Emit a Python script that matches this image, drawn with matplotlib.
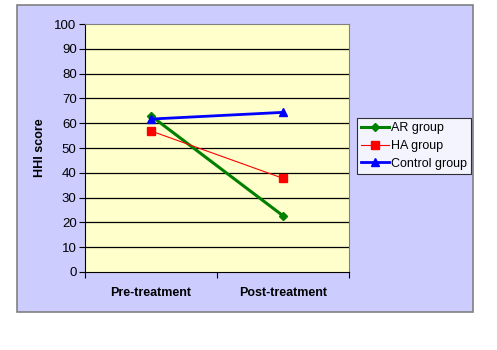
import matplotlib.pyplot as plt
from matplotlib.patches import Rectangle

# data
phases = ['Pre-treatment', 'Post-treatment']
ar_group = [63, 22.7]
ha_group = [56.9, 37.8]
control_group = [61.7, 64.4]
y_ticks = list(range(0, 101, 10))

plt.rcParams['font.family'] = ['Liberation Sans', 'DejaVu Sans']

fig = plt.figure(figsize=(4.97, 3.5), dpi=100)
fig.patch.set_facecolor('white')

# lavender chart area with a grey frame
fig.patches.append(Rectangle((0.034, 0.109), 0.918, 0.877, transform=fig.transFigure,
                             facecolor='#ccccff', edgecolor='#808080', linewidth=1.2, zorder=-5))

ax = fig.add_axes([0.171, 0.223, 0.531, 0.708])
ax.set_facecolor('#ffffcc')

x = list(range(len(phases)))
ax.plot(x, ar_group, color='#008000', linewidth=2.2, marker='D', markersize=4.5, label='AR group')
ax.plot(x, ha_group, color='#ff0000', linewidth=0.8, marker='s', markersize=6, label='HA group')
ax.plot(x, control_group, color='#0000ff', linewidth=2.0, marker='^', markersize=6, label='Control group')

ax.set_xlim(-0.5, 1.5)
ax.set_ylim(0, 100)
ax.set_yticks(y_ticks)
ax.set_yticklabels([str(v) for v in y_ticks], fontsize=9.5)
ax.set_xticks([-0.5, 0.5, 1.5])
ax.set_xticklabels([])
ax.set_xticks(x, minor=True)
ax.set_xticklabels(phases, minor=True, fontsize=9, fontweight='bold')
ax.tick_params(axis='x', which='minor', length=0, pad=11)
ax.tick_params(axis='x', which='major', length=4, direction='out', color='black')
ax.tick_params(axis='y', length=4, direction='out', pad=2, color='black')

for yv in y_ticks[1:-1]:
    ax.axhline(yv, color='black', linewidth=0.9, zorder=1)

for side in ['top', 'right']:
    ax.spines[side].set_color('#808080')
for side in ['left', 'bottom']:
    ax.spines[side].set_color('black')

ax.set_ylabel('HHI score', fontsize=9, fontweight='bold', labelpad=6)

leg = ax.legend(loc='upper left', bbox_to_anchor=(0.718, 0.663), bbox_transform=fig.transFigure,
                fontsize=9, frameon=True, fancybox=False, borderpad=0.35, labelspacing=0.45,
                handlelength=2.2, handletextpad=0.15, borderaxespad=0)
leg.get_frame().set_edgecolor('black')
leg.get_frame().set_linewidth(0.8)
leg.get_frame().set_facecolor('white')

fig.savefig('out.png', dpi=100)
